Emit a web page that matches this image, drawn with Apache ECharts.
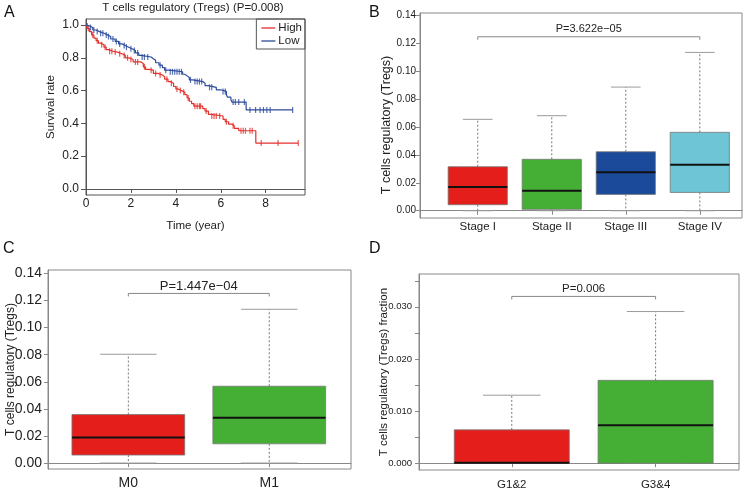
<!DOCTYPE html>
<html><head><meta charset="utf-8">
<script src="https://cdn.jsdelivr.net/npm/echarts@6/dist/echarts.min.js"></script>
<style>html,body{margin:0;padding:0;background:#fff}#c{width:749px;height:489px}</style>
</head><body><div id="c"></div>
<script>
// ---------- Panel A: Kaplan-Meier survival ----------
const kmTitle = 'T cells regulatory (Tregs) (P=0.008)';
const kmHigh = [[0,1.0],[0.05,0.98],[0.15,0.96],[0.25,0.94],[0.35,0.92],[0.45,0.905],[0.55,0.89],[0.65,0.88],[0.8,0.865],[0.9,0.85],[1.0,0.84],[1.2,0.835],[1.4,0.825],[1.6,0.815],[1.75,0.80],[1.9,0.79],[2.1,0.775],[2.45,0.765],[2.55,0.745],[2.65,0.73],[2.8,0.725],[3.0,0.705],[3.2,0.695],[3.4,0.685],[3.5,0.67],[3.65,0.655],[3.75,0.645],[3.9,0.625],[4.0,0.61],[4.1,0.60],[4.25,0.59],[4.4,0.575],[4.5,0.555],[4.6,0.535],[4.7,0.52],[4.8,0.505],[5.2,0.49],[5.3,0.475],[5.45,0.455],[5.55,0.445],[6.1,0.425],[6.2,0.41],[6.35,0.395],[6.5,0.385],[6.6,0.37],[6.8,0.355],[7.56,0.28],[9.45,0.28]];
const kmLow = [[0,1.0],[0.05,0.995],[0.15,0.985],[0.3,0.97],[0.45,0.96],[0.6,0.95],[0.8,0.94],[0.95,0.93],[1.1,0.915],[1.3,0.90],[1.45,0.885],[1.6,0.875],[1.75,0.865],[1.9,0.855],[2.05,0.845],[2.2,0.83],[2.35,0.815],[2.45,0.805],[2.9,0.795],[3.0,0.785],[3.1,0.77],[3.25,0.755],[3.4,0.74],[3.5,0.725],[3.7,0.715],[4.3,0.70],[4.4,0.69],[4.5,0.68],[4.6,0.665],[4.75,0.655],[5.2,0.645],[5.3,0.63],[5.45,0.62],[5.8,0.605],[6.0,0.595],[6.25,0.575],[6.3,0.56],[6.45,0.545],[6.5,0.53],[7.13,0.482],[9.2,0.482]];
const censorHigh = [0.1,0.3,0.5,0.7,0.85,1.05,1.15,1.3,1.5,1.7,1.85,2.0,2.2,2.3,2.6,2.9,3.1,3.3,3.6,3.8,4.05,4.2,4.35,4.55,4.85,4.95,5.05,5.1,5.35,5.6,5.7,5.8,5.95,6.25,6.55,6.9,7.0,7.1,7.3,7.4,7.8,8.55,9.45];
const censorLow = [0.05,0.2,0.35,0.5,0.65,0.75,0.9,1.0,1.2,1.35,1.5,1.7,1.8,2.0,2.15,2.3,2.5,2.6,2.75,3.3,3.55,3.75,3.85,3.95,4.05,4.15,4.25,4.65,4.85,4.95,5.05,5.15,5.5,5.6,6.1,6.2,6.55,6.65,6.8,7.05,7.3,7.55,7.75,7.9,8.05,8.2,9.2];
const kmXTicks = [0,2,4,6,8];
const kmYTicks = [0,0.2,0.4,0.6,0.8,1.0];
const kmGroups = ['High','Low'];

// ---------- Panel B: stage ----------
const stageCats = ['Stage I','Stage II','Stage III','Stage IV'];
const stageMin = [0,0,0,0];
const stageQ1  = [0.0043,0.001,0.0117,0.0131];
const stageMed = [0.017,0.0143,0.0275,0.0329];
const stageQ3  = [0.0315,0.0368,0.0422,0.0561];
const stageMax = [0.0654,0.068,0.0885,0.1133];
const stageTicks = [0,0.02,0.04,0.06,0.08,0.10,0.12,0.14];
const stageP = 'P=3.622e\u221205';
const stageBracket = [1,4,0.1245];

// ---------- Panel C: M ----------
const mCats = ['M0','M1'];
const mMin = [0,0];
const mQ1  = [0.0059,0.0142];
const mMed = [0.0189,0.0334];
const mQ3  = [0.0358,0.0567];
const mMax = [0.0803,0.1135];
const mTicks = [0,0.02,0.04,0.06,0.08,0.10,0.12,0.14];
const mP = 'P=1.447e\u221204';
const mBracket = [1,2,0.1252];

// ---------- Panel D: grade ----------
const gCats = ['G1&2','G3&4'];
const gMin = [0,0];
const gQ1  = [0,0];
const gMed = [0.0001,0.0073];
const gQ3  = [0.0064,0.0159];
const gMax = [0.01305,0.0291];
const gTickLabels = [0,0.01,0.02,0.03];
const gTickMarks = [0,0.005,0.01,0.015,0.02,0.025,0.03,0.035];
const gP = 'P=0.006';
const gBracket = [1,2,0.032];

const yTitle = 'T cells regulatory (Tregs)';
const yTitleD = 'T cells regulatory (Tregs) fraction';

const RED='#E41F1B', GREEN='#45AE35', BLUE='#1B4A9B', CYAN='#6DC5D5';
const FONT = "'Liberation Sans', Arial, Helvetica, sans-serif";

function survAt(steps, t){ let s = steps[0][1]; for (const p of steps){ if (p[0] <= t) s = p[1]; } return s; }
function boxData(mn,q1,md,q3,mx){ return mn.map((v,i)=>[i+1, v, q1[i], md[i], q3[i], mx[i]]); }

function makeBox(colors){
  return function(params, api){
    const i = params.dataIndex;
    const x = api.value(0), vmin=api.value(1), q1=api.value(2), md=api.value(3), q3=api.value(4), vmax=api.value(5);
    const xl = api.coord([x-0.4, q3])[0], xr = api.coord([x+0.4, q3])[0];
    const cl = api.coord([x-0.2, vmax])[0], cr = api.coord([x+0.2, vmax])[0];
    const cx = api.coord([x, vmax])[0];
    const yMax = api.coord([x, vmax])[1], yMin = api.coord([x, vmin])[1];
    const yQ1 = api.coord([x, q1])[1], yQ3 = api.coord([x, q3])[1], yMd = api.coord([x, md])[1];
    const dash = {stroke:'#777', lineWidth:1, lineDash:[2,2]};
    const cap = {stroke:'#9a9a9a', lineWidth:1};
    return {type:'group', children:[
      {type:'line', shape:{x1:cx,y1:yQ3,x2:cx,y2:yMax}, style:dash},
      {type:'line', shape:{x1:cx,y1:yQ1,x2:cx,y2:yMin}, style:dash},
      {type:'line', shape:{x1:cl,y1:yMax,x2:cr,y2:yMax}, style:cap},
      {type:'line', shape:{x1:cl,y1:yMin,x2:cr,y2:yMin}, style:cap},
      {type:'rect', shape:{x:xl, y:yQ3, width:xr-xl, height:yQ1-yQ3}, style:{fill:colors[i], stroke:'#777', lineWidth:0.8}},
      {type:'line', shape:{x1:xl,y1:yMd,x2:xr,y2:yMd}, style:{stroke:'#111', lineWidth:2}}
    ]};
  };
}
function makeBracket(text, fs, off){
  return function(params, api){
    const a = api.coord([api.value(0), api.value(2)]);
    const b = api.coord([api.value(1), api.value(2)]);
    return {type:'group', children:[
      {type:'polyline', shape:{points:[[a[0],a[1]+3],[a[0],a[1]],[b[0],b[1]],[b[0],b[1]+3]]}, style:{stroke:'#888', lineWidth:1, fill:null}},
      {type:'text', style:{text:text, x:(a[0]+b[0])/2, y:a[1]-off, align:'center', verticalAlign:'bottom', fontSize:fs, fontFamily:FONT, fill:'#222'}}
    ]};
  };
}

const grids = [
  {left:86, top:19, width:219, height:176},
  {left:420, top:13, width:322, height:205},
  {left:48, top:270, width:303, height:199},
  {left:419, top:274, width:320, height:196}
].map(g=>Object.assign({show:true, borderColor:'#888', borderWidth:1, backgroundColor:'transparent', containLabel:false, outerBoundsMode:'none'}, g));
grids[0].borderColor = '#555';

function xCat(gi, cats, min, max, fs, margin){
  return {type:'value', gridIndex:gi, min:min, max:max, splitLine:{show:false},
    axisLine:{show:true, lineStyle:{color:'#888'}},
    axisTick:{show:true, length:4, customValues:cats.map((c,i)=>i+1), lineStyle:{color:'#888'}},
    axisLabel:{customValues:cats.map((c,i)=>i+1), formatter:v=>cats[Math.round(v)-1], fontSize:fs, fontFamily:FONT, color:'#222', margin:margin}};
}
function yVal(gi, min, max, ticks, labels, dec, fs, margin, name, nfs, gap){
  return {type:'value', gridIndex:gi, min:min, max:max, splitLine:{show:false},
    axisLine:{show:true, lineStyle:{color:'#888'}},
    axisTick:{show:true, length:4, customValues:ticks, lineStyle:{color:'#888'}},
    axisLabel:{customValues:labels, formatter:v=>v.toFixed(dec), fontSize:fs, fontFamily:FONT, color:'#222', margin:margin},
    name:name, nameLocation:'middle', nameGap:gap, nameMoveOverlap:false, nameTextStyle:{fontSize:nfs, fontFamily:FONT, color:'#222'}};
}

const option = {
  animation:false,
  backgroundColor:'#fff',
  grid: grids,
  title:[{text:kmTitle, left:193, top:2, padding:0, textAlign:'center', textStyle:{fontSize:11.5, fontWeight:'normal', fontFamily:FONT, color:'#222'}}],
  legend:{data:kmGroups, right:444, top:19, orient:'vertical', borderColor:'#555', borderWidth:1, borderRadius:0,
    padding:[3,3,2,5], itemGap:1, icon:'rect', itemWidth:14, itemHeight:1.3,
    textStyle:{fontSize:11.5, fontFamily:FONT, color:'#222', padding:[0,0,0,-2]}},
  xAxis:[
    {type:'value', gridIndex:0, min:0, max:9.75, splitLine:{show:false},
      axisLine:{show:true, lineStyle:{color:'#555'}},
      axisTick:{show:true, length:4, customValues:kmXTicks, lineStyle:{color:'#555'}},
      axisLabel:{customValues:kmXTicks, fontSize:12, fontFamily:FONT, color:'#222', margin:3},
      name:'Time (year)', nameLocation:'middle', nameGap:25, nameMoveOverlap:false, nameTextStyle:{fontSize:11.5, fontFamily:FONT, color:'#222'}},
    xCat(1, stageCats, 0.22, 4.57, 11.5, 3),
    xCat(2, mCats, 0.43, 2.58, 14, 7.5),
    xCat(3, gCats, 0.355, 2.58, 11.5, 9)
  ],
  yAxis:[
    {type:'value', gridIndex:0, min:-0.037, max:1.037, splitLine:{show:false},
      axisLine:{show:true, lineStyle:{color:'#555'}},
      axisTick:{show:true, length:5, customValues:kmYTicks, lineStyle:{color:'#555'}},
      axisLabel:{customValues:kmYTicks, formatter:v=>v.toFixed(1), fontSize:12, fontFamily:FONT, color:'#222', margin:7},
      name:'Survival rate', nameLocation:'middle', nameGap:29, nameMoveOverlap:false, nameTextStyle:{fontSize:11.5, fontFamily:FONT, color:'#222'}},
    yVal(1, -0.0052, 0.1415, stageTicks, stageTicks, 2, 10, 4, '', 12, 26),
    yVal(2, -0.0044, 0.1425, mTicks, mTicks, 2, 14, 6, yTitle, 12, 31),
    yVal(3, -0.0013, 0.0363, gTickMarks, gTickLabels, 3, 9.5, 7, yTitleD, 11.5, 29)
  ],
  series:[
    {name:'High', type:'line', xAxisIndex:0, yAxisIndex:0, step:'end', data:kmHigh, showSymbol:false, symbol:'none', lineStyle:{color:'#E4312C', width:1.2}, itemStyle:{color:'#E4312C'}},
    {name:'Low', type:'line', xAxisIndex:0, yAxisIndex:0, step:'end', data:kmLow, showSymbol:false, symbol:'none', lineStyle:{color:'#2C4B9C', width:1.2}, itemStyle:{color:'#2C4B9C'}},
    {name:'High censored', type:'scatter', xAxisIndex:0, yAxisIndex:0, data:censorHigh.map(t=>[t, survAt(kmHigh,t)]), symbol:'rect', symbolSize:[1.2,6], itemStyle:{color:'#E4312C'}},
    {name:'Low censored', type:'scatter', xAxisIndex:0, yAxisIndex:0, data:censorLow.map(t=>[t, survAt(kmLow,t)]), symbol:'rect', symbolSize:[1.2,6], itemStyle:{color:'#2C4B9C'}},
    {type:'custom', xAxisIndex:1, yAxisIndex:1, renderItem:makeBox([RED,GREEN,BLUE,CYAN]), data:boxData(stageMin,stageQ1,stageMed,stageQ3,stageMax), encode:{x:0, y:[1,2,3,4,5]}},
    {type:'custom', xAxisIndex:1, yAxisIndex:1, renderItem:makeBracket(stageP, 11, 2), data:[stageBracket], encode:{x:[0,1], y:2}},
    {type:'custom', xAxisIndex:2, yAxisIndex:2, renderItem:makeBox([RED,GREEN]), data:boxData(mMin,mQ1,mMed,mQ3,mMax), encode:{x:0, y:[1,2,3,4,5]}},
    {type:'custom', xAxisIndex:2, yAxisIndex:2, renderItem:makeBracket(mP, 13, 1), data:[mBracket], encode:{x:[0,1], y:2}},
    {type:'custom', xAxisIndex:3, yAxisIndex:3, renderItem:makeBox([RED,GREEN]), data:boxData(gMin,gQ1,gMed,gQ3,gMax), encode:{x:0, y:[1,2,3,4,5]}},
    {type:'custom', xAxisIndex:3, yAxisIndex:3, renderItem:makeBracket(gP, 11.5, 2), data:[gBracket], encode:{x:[0,1], y:2}}
  ],
  graphic:[
    {type:'text', left:4, top:5, style:{text:'A', fontSize:16, fontFamily:FONT, fill:'#111'}},
    {type:'text', left:369, top:5, style:{text:'B', fontSize:16, fontFamily:FONT, fill:'#111'}},
    {type:'text', left:3, top:241, style:{text:'C', fontSize:16, fontFamily:FONT, fill:'#111'}},
    {type:'text', left:369, top:241, style:{text:'D', fontSize:16, fontFamily:FONT, fill:'#111'}},
    {type:'text', x:387, y:125, rotation:Math.PI/2, style:{text:yTitle, align:'center', verticalAlign:'middle', fontSize:12.5, fontFamily:FONT, fill:'#222'}}
  ]
};
const chart = echarts.init(document.getElementById('c'), null, {renderer:'canvas'});
chart.setOption(option);
</script>
</body></html>
